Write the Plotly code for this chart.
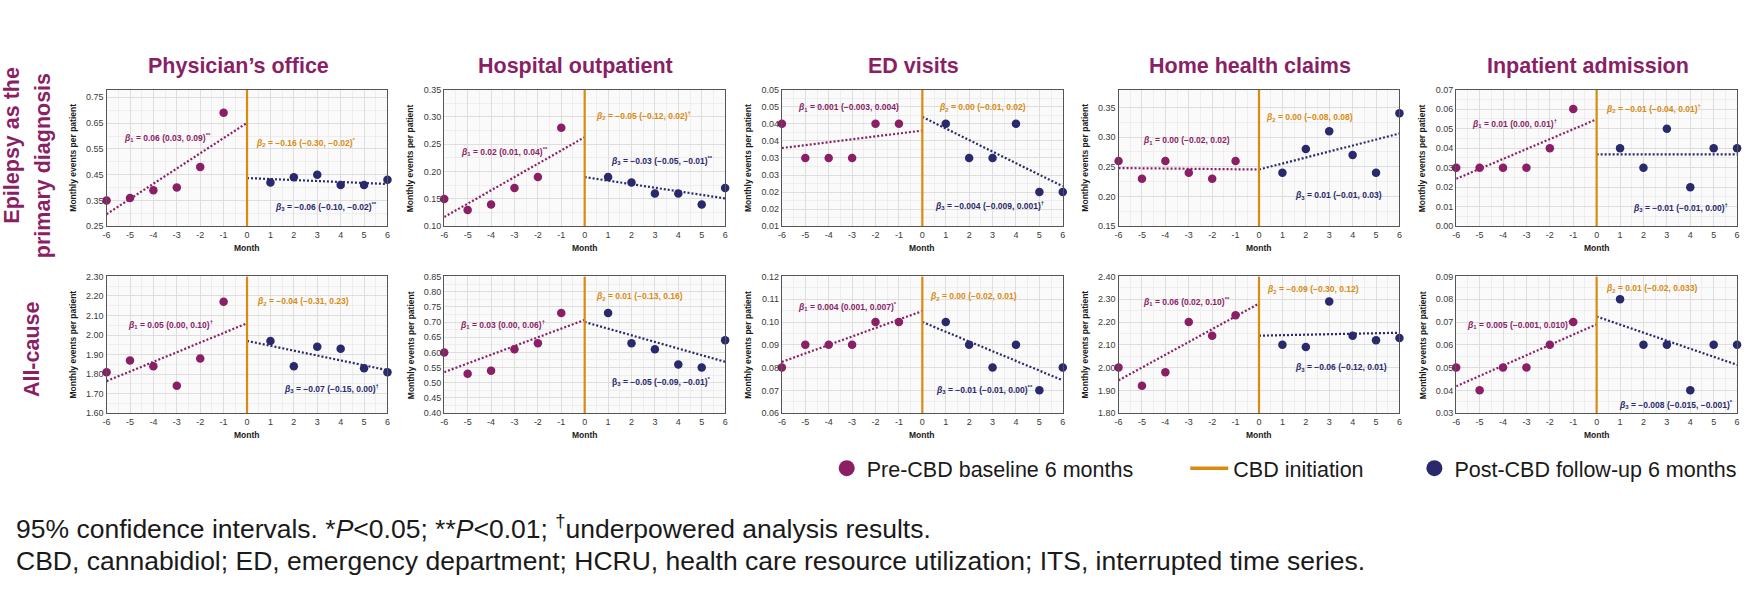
import plotly.graph_objects as go

W, H = 1763, 606
FONT = "Liberation Sans, Arial, sans-serif"
PURPLE = "#8a1f66"
NAVY = "#29296b"
ORANGE = "#d98b10"
TEXT = "#1a1a1a"

# ---------------- data ----------------
months_pre = [-6, -5, -4, -3, -2, -1]
months_post = [1, 2, 3, 4, 5, 6]
month_ticks = [-6, -5, -4, -3, -2, -1, 0, 1, 2, 3, 4, 5, 6]
month_labels = ["-6", "-5", "-4", "-3", "-2", "-1", "0", "1", "2", "3", "4", "5", "6"]

panel_titles = ["Physician’s office", "Hospital outpatient", "ED visits",
                "Home health claims", "Inpatient admission"]
row1_label = ["Epilepsy as the", "primary diagnosis"]
row2_label = "All-cause"

# Row 1: epilepsy as the primary diagnosis
pre_row1 = [
    [0.35, 0.36, 0.39, 0.40, 0.48, 0.69],
    [0.15, 0.13, 0.14, 0.17, 0.19, 0.28],
    [0.04, 0.03, 0.03, 0.03, 0.04, 0.04],
    [0.26, 0.23, 0.26, 0.24, 0.23, 0.26],
    [0.03, 0.03, 0.03, 0.03, 0.04, 0.06],
]
post_row1 = [
    [0.42, 0.44, 0.45, 0.41, 0.41, 0.43],
    [0.19, 0.18, 0.16, 0.16, 0.14, 0.17],
    [0.04, 0.03, 0.03, 0.04, 0.02, 0.02],
    [0.24, 0.28, 0.31, 0.27, 0.24, 0.34],
    [0.04, 0.03, 0.05, 0.02, 0.04, 0.04],
]
# fitted trend values: pre at months (-6, 0), post at months (0, 6)
pre_trend_row1 = [(0.297, 0.651), (0.117, 0.263), (0.0329, 0.038), (0.248, 0.2455), (0.0243, 0.0548)]
post_trend_row1 = [(0.437, 0.414), (0.190, 0.151), (0.042, 0.0217), (0.2455, 0.306), (0.0368, 0.0368)]

# Row 2: all-cause
pre_row2 = [
    [1.81, 1.87, 1.84, 1.74, 1.88, 2.17],
    [0.60, 0.53, 0.54, 0.61, 0.63, 0.73],
    [0.08, 0.09, 0.09, 0.09, 0.10, 0.10],
    [2.00, 1.92, 1.98, 2.20, 2.14, 2.23],
    [0.05, 0.04, 0.05, 0.05, 0.06, 0.07],
]
post_row2 = [
    [1.97, 1.84, 1.94, 1.93, 1.83, 1.81],
    [0.73, 0.63, 0.61, 0.56, 0.55, 0.64],
    [0.10, 0.09, 0.08, 0.09, 0.07, 0.08],
    [2.10, 2.09, 2.29, 2.14, 2.12, 2.13],
    [0.08, 0.06, 0.06, 0.04, 0.06, 0.06],
]
pre_trend_row2 = [(1.764, 2.06), (0.535, 0.707), (0.0825, 0.1048), (1.944, 2.281), (0.0418, 0.069)]
post_trend_row2 = [(1.97, 1.82), (0.70, 0.569), (0.100, 0.0744), (2.140, 2.153), (0.0724, 0.0512)]

# y-axis ticks
yticks_row1 = [
    [0.25, 0.35, 0.45, 0.55, 0.65, 0.75],
    [0.10, 0.15, 0.20, 0.25, 0.30, 0.35],
    [0.010, 0.015, 0.020, 0.025, 0.030, 0.035, 0.040, 0.045, 0.050],
    [0.15, 0.20, 0.25, 0.30, 0.35],
    [0.00, 0.01, 0.02, 0.03, 0.04, 0.05, 0.06, 0.07],
]
ylabels_row1 = [
    ["0.25", "0.35", "0.45", "0.55", "0.65", "0.75"],
    ["0.10", "0.15", "0.20", "0.25", "0.30", "0.35"],
    ["0.01", "0.02", "0.02", "0.03", "0.03", "0.04", "0.04", "0.05", "0.05"],
    ["0.15", "0.20", "0.25", "0.30", "0.35"],
    ["0.00", "0.01", "0.02", "0.03", "0.04", "0.05", "0.06", "0.07"],
]
yrange_row1 = [(0.25, 0.78), (0.10, 0.35), (0.01, 0.05), (0.15, 0.38), (0.0, 0.07)]

yticks_row2 = [
    [1.60, 1.70, 1.80, 1.90, 2.00, 2.10, 2.20, 2.30],
    [0.40, 0.45, 0.50, 0.55, 0.60, 0.65, 0.70, 0.75, 0.80, 0.85],
    [0.06, 0.07, 0.08, 0.09, 0.10, 0.11, 0.12],
    [1.80, 1.90, 2.00, 2.10, 2.20, 2.30, 2.40],
    [0.03, 0.04, 0.05, 0.06, 0.07, 0.08, 0.09],
]
ylabels_row2 = [
    ["1.60", "1.70", "1.80", "1.90", "2.00", "2.10", "2.20", "2.30"],
    ["0.40", "0.45", "0.50", "0.55", "0.60", "0.65", "0.70", "0.75", "0.80", "0.85"],
    ["0.06", "0.07", "0.08", "0.09", "0.10", "0.11", "0.12"],
    ["1.80", "1.90", "2.00", "2.10", "2.20", "2.30", "2.40"],
    ["0.03", "0.04", "0.05", "0.06", "0.07", "0.08", "0.09"],
]
yrange_row2 = [(1.60, 2.30), (0.40, 0.85), (0.06, 0.12), (1.80, 2.40), (0.03, 0.09)]

# beta estimates: (estimate text, significance mark) for beta1, beta2, beta3
betas_row1 = [
    [("0.06 (0.03, 0.09)", "**"), ("−0.16 (−0.30, −0.02)", "*"), ("−0.06 (−0.10, −0.02)", "**")],
    [("0.02 (0.01, 0.04)", "**"), ("−0.05 (−0.12, 0.02)", "†"), ("−0.03 (−0.05, −0.01)", "**")],
    [("0.001 (−0.003, 0.004)", ""), ("0.00 (−0.01, 0.02)", ""), ("−0.004 (−0.009, 0.001)", "†")],
    [("0.00 (−0.02, 0.02)", ""), ("0.00 (−0.08, 0.08)", ""), ("0.01 (−0.01, 0.03)", "")],
    [("0.01 (0.00, 0.01)", "†"), ("−0.01 (−0.04, 0.01)", "†"), ("−0.01 (−0.01, 0.00)", "†")],
]
betas_row2 = [
    [("0.05 (0.00, 0.10)", "†"), ("−0.04 (−0.31, 0.23)", ""), ("−0.07 (−0.15, 0.00)", "†")],
    [("0.03 (0.00, 0.06)", "†"), ("0.01 (−0.13, 0.16)", ""), ("−0.05 (−0.09, −0.01)", "*")],
    [("0.004 (0.001, 0.007)", "*"), ("0.00 (−0.02, 0.01)", ""), ("−0.01 (−0.01, 0.00)", "**")],
    [("0.06 (0.02, 0.10)", "**"), ("−0.09 (−0.30, 0.12)", ""), ("−0.06 (−0.12, 0.01)", "")],
    [("0.005 (−0.001, 0.010)", "†"), ("0.01 (−0.02, 0.033)", ""), ("−0.008 (−0.015, −0.001)", "*")],
]
# label anchor positions (data coords, left-anchored)
beta_pos_row1 = [
    [(-5.36, 0.594), (0.30, 0.575), (1.10, 0.326)],
    [(-5.36, 0.237), (0.38, 0.303), (1.02, 0.220)],
    [(-5.40, 0.0448), (0.64, 0.0448), (0.47, 0.016)],
    [(-5.04, 0.294), (0.23, 0.3335), (1.47, 0.2024)],
    [(-5.42, 0.0527), (0.33, 0.0603), (1.45, 0.0097)],
]
beta_pos_row2 = [
    [(-5.15, 2.055), (0.33, 2.173), (1.50, 1.725)],
    [(-5.43, 0.693), (0.38, 0.784), (1.08, 0.503)],
    [(-5.38, 0.1067), (0.26, 0.1112), (0.51, 0.0703)],
    [(-5.04, 2.292), (0.26, 2.343), (1.47, 2.001)],
    [(-5.63, 0.0688), (0.33, 0.0845), (0.85, 0.034)],
]

legend_names = ["Pre-CBD baseline 6 months", "CBD initiation", "Post-CBD follow-up 6 months"]
footnote_1 = ("95% confidence intervals. *<i>P</i>&lt;0.05; **<i>P</i>&lt;0.01; "
              "<sup>†</sup>underpowered analysis results.")
footnote_2 = ("CBD, cannabidiol; ED, emergency department; HCRU, health care resource "
              "utilization; ITS, interrupted time series.")

# ---------------- layout geometry (pixels) ----------------
col_left = [103, 442, 781, 1119, 1458]
plot_w = 282
row_top = [86, 276]
plot_h = 139


def px_x(p):
    return p / W


def px_y(p):
    return 1 - p / H


fig = go.Figure()
annotations = []
beta_colors = [PURPLE, ORANGE, NAVY]

rows = [
    (pre_row1, post_row1, pre_trend_row1, post_trend_row1, yticks_row1, ylabels_row1,
     yrange_row1, betas_row1, beta_pos_row1),
    (pre_row2, post_row2, pre_trend_row2, post_trend_row2, yticks_row2, ylabels_row2,
     yrange_row2, betas_row2, beta_pos_row2),
]

k = 0
for r, (pre, post, pre_tr, post_tr, yt, yl, yr, betas, bpos) in enumerate(rows):
    for c in range(5):
        k += 1
        xa = "x" if k == 1 else f"x{k}"
        ya = "y" if k == 1 else f"y{k}"
        xkey = "xaxis" if k == 1 else f"xaxis{k}"
        ykey = "yaxis" if k == 1 else f"yaxis{k}"
        left = col_left[c]
        top = row_top[r]
        x_dom = [px_x(left), px_x(left + plot_w)]
        y_dom = [px_y(top + plot_h), px_y(top)]

        # minor gridline positions (midpoints between major ticks)
        ymin_t = [(yt[c][i] + yt[c][i + 1]) / 2 for i in range(len(yt[c]) - 1)]
        xmin_t = [m + 0.5 for m in month_ticks[:-1]]

        fig.update_layout(**{
            xkey: dict(domain=x_dom, anchor=ya, range=[-6, 6], tickmode="array",
                       tickvals=month_ticks, ticktext=month_labels, showgrid=True,
                       gridcolor="#dedede", gridwidth=1, zeroline=False,
                       showline=True, linecolor="#555555", linewidth=1.3, mirror=True,
                       ticks="", tickfont=dict(size=9, color="#3a3a3a", family=FONT),
                       minor=dict(tickvals=xmin_t, showgrid=True, gridcolor="#eeeeee",
                                  gridwidth=1, ticks=""),
                       fixedrange=True),
            ykey: dict(domain=y_dom, anchor=xa, range=list(yr[c]), tickmode="array",
                       tickvals=yt[c], ticktext=yl[c], showgrid=True,
                       gridcolor="#dedede", gridwidth=1, zeroline=False,
                       showline=True, linecolor="#555555", linewidth=1.3, mirror=True,
                       ticks="", tickfont=dict(size=9, color="#3a3a3a", family=FONT),
                       minor=dict(tickvals=ymin_t, showgrid=True, gridcolor="#eeeeee",
                                  gridwidth=1, ticks=""),
                       fixedrange=True),
        })

        # trend lines
        fig.add_trace(go.Scatter(x=[-6, 0], y=list(pre_tr[c]), mode="lines",
                                 line=dict(color=PURPLE, width=2.2, dash="2px,2px"),
                                 xaxis=xa, yaxis=ya, showlegend=False, hoverinfo="skip"))
        fig.add_trace(go.Scatter(x=[0, 6], y=list(post_tr[c]), mode="lines",
                                 line=dict(color=NAVY, width=2.2, dash="2px,2px"),
                                 xaxis=xa, yaxis=ya, showlegend=False, hoverinfo="skip"))
        # CBD initiation line
        fig.add_trace(go.Scatter(x=[0, 0], y=list(yr[c]), mode="lines",
                                 line=dict(color=ORANGE, width=2.2),
                                 xaxis=xa, yaxis=ya, showlegend=False, hoverinfo="skip"))
        # points
        fig.add_trace(go.Scatter(x=months_pre, y=pre[c], mode="markers",
                                 marker=dict(color=PURPLE, size=8.5), cliponaxis=False,
                                 xaxis=xa, yaxis=ya, showlegend=False))
        fig.add_trace(go.Scatter(x=months_post, y=post[c], mode="markers",
                                 marker=dict(color=NAVY, size=8.5), cliponaxis=False,
                                 xaxis=xa, yaxis=ya, showlegend=False))

        # beta labels
        for b in range(3):
            est, mark = betas[c][b]
            sup = f"<sup>{mark}</sup>" if mark else ""
            beta_sym = "β" if (r == 1 and c == 1 and b == 2) else "<i>β</i>"
            txt = f"<b>{beta_sym}<sub>{b + 1}</sub> = {est}{sup}</b>"
            bx, by = bpos[c][b]
            annotations.append(dict(x=bx, y=by, xref=xa, yref=ya, text=txt,
                                    showarrow=False, xanchor="left", yanchor="middle",
                                    font=dict(size=8.5, color=beta_colors[b], family=FONT)))

        # axis titles
        annotations.append(dict(x=px_x(left - 34), y=px_y(top + plot_h / 2), xref="paper",
                                yref="paper", text="<b>Monthly events per patient</b>",
                                textangle=-90, showarrow=False, xanchor="center",
                                yanchor="middle", font=dict(size=8.5, color=TEXT, family=FONT)))
        annotations.append(dict(x=px_x(left + plot_w / 2), y=px_y(top + plot_h + 22),
                                xref="paper", yref="paper", text="<b>Month</b>",
                                showarrow=False, xanchor="center", yanchor="middle",
                                font=dict(size=8.5, color=TEXT, family=FONT)))
        if r == 0:
            annotations.append(dict(x=px_x(left + plot_w / 2 - 9), y=px_y(62), xref="paper",
                                    yref="paper", text=f"<b>{panel_titles[c]}</b>",
                                    showarrow=False, xanchor="center", yanchor="middle",
                                    font=dict(size=21.5, color=PURPLE, family=FONT)))

# row labels
annotations.append(dict(x=px_x(8), y=px_y(142), xref="paper", yref="paper",
                        text=f"<b>{row1_label[0]}</b>", textangle=-90, showarrow=False,
                        xanchor="center", yanchor="middle",
                        font=dict(size=21.5, color=PURPLE, family=FONT)))
annotations.append(dict(x=px_x(39), y=px_y(163), xref="paper", yref="paper",
                        text=f"<b>{row1_label[1]}</b>", textangle=-90, showarrow=False,
                        xanchor="center", yanchor="middle",
                        font=dict(size=21.5, color=PURPLE, family=FONT)))
annotations.append(dict(x=px_x(28), y=px_y(350), xref="paper", yref="paper",
                        text=f"<b>{row2_label}</b>", textangle=-90, showarrow=False,
                        xanchor="center", yanchor="middle",
                        font=dict(size=21.5, color=PURPLE, family=FONT)))

# footnotes
annotations.append(dict(x=px_x(10), y=px_y(531), xref="paper", yref="paper",
                        text=footnote_1, showarrow=False, xanchor="left", yanchor="middle",
                        font=dict(size=26.5, color=TEXT, family=FONT)))
annotations.append(dict(x=px_x(10), y=px_y(565), xref="paper", yref="paper",
                        text=footnote_2, showarrow=False, xanchor="left", yanchor="middle",
                        font=dict(size=26.5, color=TEXT, family=FONT)))

# legend entries
fig.add_trace(go.Scatter(x=[None], y=[None], mode="markers", name=legend_names[0],
                         marker=dict(color=PURPLE, size=16), legend="legend"))
fig.add_trace(go.Scatter(x=[None], y=[None], mode="lines", name=legend_names[1],
                         line=dict(color=ORANGE, width=3.5), legend="legend2"))
fig.add_trace(go.Scatter(x=[None], y=[None], mode="markers", name=legend_names[2],
                         marker=dict(color=NAVY, size=16), legend="legend3"))

leg_common = dict(orientation="h", yanchor="middle", xanchor="left",
                  y=px_y(471), bgcolor="rgba(0,0,0,0)",
                  font=dict(size=21.5, color=TEXT, family=FONT))
fig.update_layout(
    width=W, height=H,
    margin=dict(l=0, r=0, t=0, b=0),
    paper_bgcolor="white",
    plot_bgcolor="#fafafa",
    font=dict(family=FONT, color=TEXT),
    annotations=annotations,
    showlegend=True,
    legend=dict(x=px_x(826), **leg_common),
    legend2=dict(x=px_x(1186), itemwidth=38, **leg_common),
    legend3=dict(x=px_x(1416), **leg_common),
)

fig.write_html("out.html", config={"displayModeBar": False},
               post_script="document.body.style.margin='0';")
